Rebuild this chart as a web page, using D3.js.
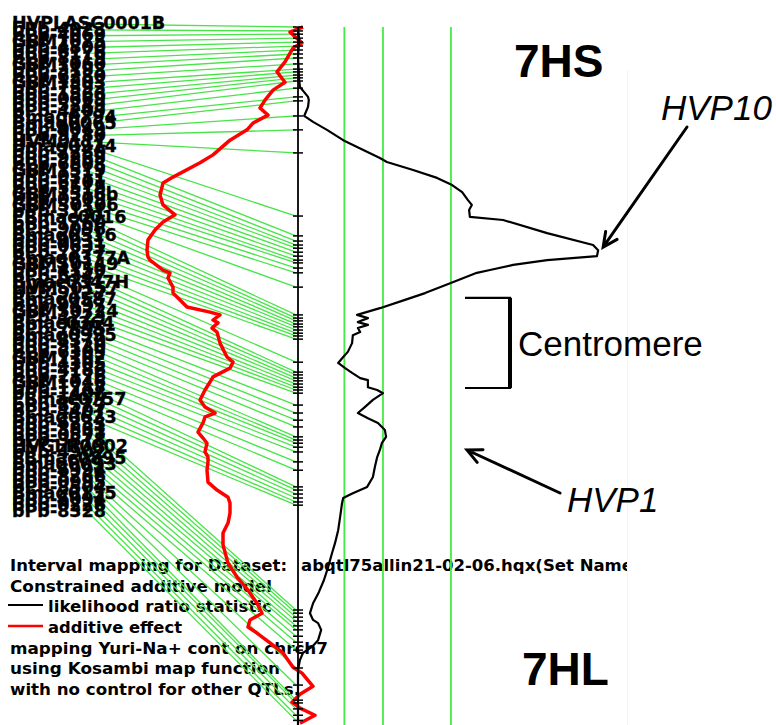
<!DOCTYPE html>
<html>
<head>
<meta charset="utf-8">
<script src="https://cdn.jsdelivr.net/npm/d3@7"></script>
<style>
  body { margin: 0; background: #fff; }
  svg { display: block; }
</style>
</head>
<body>
<div id="chart"></div>
<script>
// marker names (top to bottom) and their map positions in cM
const markerNames = [
  "HVPLASC0001B", "bPb-4023", "bPb-4069", "GBM1075", "bPb-4800", "bPb-6176", "bPb-8119", "GBM1060",
  "bPb-3193", "bPb-6280", "GBM1303", "bPb-7593", "bPb-1566", "bPb-0669", "bPb-5249", "bPb-4209",
  "Bmag0794", "Bmag0065", "bPb-0049", "bPb-9280", "HVM0111", "Bmag0914", "bPb-7280", "bPb-9269",
  "bPb-6808", "GBM1519", "bPb-0311", "bPb-6101", "bPb-5518", "GBM1516b", "bPb-0309", "GBMS0106",
  "bPb-3131", "EBmac0016", "bPb-1760", "bPb-9096", "Bmag0516", "bPb-0031", "bPb-0631", "bPb-7277",
  "Bmag0377A", "GBMS0149", "bPb-4150", "bPb-6347", "Bmac0347H", "HVMS0157", "bPb-9127", "Bmag0587",
  "bPb-9497", "GBMS0724", "bPb-4223", "Bmac0364", "bPb-7895", "Bmag0995", "bPb-8370", "bPb-5120",
  "bPb-6309", "GBM1102", "bPb-4305", "bPb-4186", "bPb-2176", "GBM1046", "bPb-1747", "bPb-1408",
  "EBmac0757", "bPb-8577", "bPb-4407", "Bmag0623", "bPb-6233", "bPb-3881", "bPb-0577", "bPb-3878",
  "HVGLR0002", "bPb-4902", "EBmac0895", "Bmag0093", "bPb-6994", "bPb-8266", "bPb-0995", "bPb-8504",
  "Bmag0135", "bPb-6094", "bPb-0226", "bPb-8328"
];
const markerPos = [
  0, 1.0, 1.8, 2.8, 3.8, 4.8, 5.8, 6.8, 7.8, 9.3, 10.6, 11.3, 12.1, 12.8, 13.6, 15.4,
  17.6, 18.6, 22.4, 25.9, 31.7, 47.6, 52.6, 53.9, 54.9, 55.7, 56.7, 57.7, 58.7, 59.4, 60.7, 61.9,
  65.5, 72.5, 73.3, 74.0, 74.8, 75.5, 76.3, 77.1, 77.8, 78.6, 84.4, 86.9, 87.6, 88.4, 89.1, 89.9,
  90.7, 91.4, 92.2, 95.2, 97.2, 99.0, 100.7, 103.2, 104.0, 104.8, 105.8, 107.0, 109.5, 111.6,
  115.8, 116.6, 117.6, 118.6, 119.6, 120.4, 146.8, 147.6, 148.6, 149.6, 150.8, 151.8, 153.4,
  154.9, 156.9, 161.4, 165.7, 169.5, 170.2, 171.7, 173.3, 174.6
];

// likelihood ratio statistic along the chromosome
const lrPos = [
  0, 3.3, 7.6, 13.3, 15.1, 16.4, 17.6, 18.4, 20.1, 22.4, 23.9, 25.9, 28.5, 30.2, 33.0,
  34.0, 36.0, 38.0, 39.8, 41.6, 43.6, 44.8, 46.1, 47.8, 48.6, 51.9, 54.9, 56.2, 57.7, 58.7,
  59.9, 61.2, 61.9, 64.5, 67.0, 68.7, 70.8, 72.5, 73.3, 74.3, 75.0, 75.8, 76.8, 77.6, 79.6,
  81.8, 83.1, 84.6, 85.9, 87.1, 88.4, 88.9, 90.7, 91.4, 92.2, 93.9, 95.7, 97.2, 98.5, 99.7,
  101.5, 103.2, 104.8, 106.5, 108.3, 110.8, 113.3, 115.8, 117.4, 118.6, 119.9, 123.4, 126.7, 129.9, 132.5,
  136.0, 139.3, 142.3, 145.1, 147.6, 149.3, 150.1, 151.8, 154.4, 156.1, 157.6, 159.4, 161.9, 175.8
];
const lrVal = [
  0, 0.3, 0, 0.3, 0.5, 1.6, 2.6, 2.8, 2.6, 1.6, 3.9, 7.5, 11.7, 15.3, 21.2,
  23.0, 29.8, 36.0, 39.9, 42.5, 44.0, 45.0, 44.3, 44.5, 53.1, 64.5, 76.4, 77.7, 77.4, 64.5,
  55.7, 49.7, 46.3, 39.4, 32.9, 27.7, 21.2, 15.3, 18.1, 15.5, 18.1, 15.5, 16.1, 14.2, 14.0,
  12.9, 11.7, 10.4, 12.2, 14.0, 16.1, 18.1, 18.1, 20.5, 22.0, 19.4, 17.3, 15.5, 18.1, 20.7,
  22.5, 22.8, 21.7, 21.2, 20.5, 19.9, 19.4, 17.9, 14.2, 11.7, 11.4, 10.9, 10.4, 9.6, 8.8,
  7.8, 6.7, 5.4, 3.9, 3.1, 3.9, 5.2, 6.0, 5.2, 3.6, 1.3, 0.5, 0, 0
];

// additive effect along the chromosome
const addPos = [
  0, 1.3, 4.0, 5.3, 8.8, 11.3, 13.9, 15.9, 18.4, 20.4, 22.2, 24.2, 25.9, 28.5, 32.2,
  34.2, 37.8, 39.3, 42.3, 44.8, 47.3, 49.1, 51.1, 53.6, 56.2, 57.9, 58.7, 61.2, 61.9, 63.2,
  65.5, 67.0, 70.5, 71.8, 72.5, 73.8, 74.5, 75.8, 76.8, 79.6, 83.1, 84.4, 85.9, 88.1, 89.4,
  91.4, 93.9, 95.7, 97.2, 98.2, 99.7, 102.0, 103.5, 104.8, 107.0, 108.3, 109.5, 111.6, 114.6, 116.6,
  118.4, 119.9, 122.4, 124.9, 127.4, 130.4, 135.0, 138.5, 141.8, 145.1, 147.6, 149.3, 151.1, 152.6, 155.1,
  157.6, 161.2, 162.7, 166.0, 168.0, 170.0, 171.5, 173.3, 175.3
];
const addVal = [
  0.010, -0.016, 0.008, -0.010, -0.026, -0.042, -0.026, -0.050, -0.066, -0.076, -0.060, -0.090, -0.102, -0.136, -0.170,
  -0.196, -0.250, -0.270, -0.276, -0.270, -0.246, -0.270, -0.286, -0.300, -0.302, -0.300, -0.296, -0.270, -0.256, -0.260,
  -0.250, -0.250, -0.222, -0.176, -0.156, -0.170, -0.160, -0.172, -0.162, -0.156, -0.142, -0.130, -0.136, -0.170, -0.176,
  -0.186, -0.196, -0.186, -0.166, -0.186, -0.190, -0.200, -0.190, -0.182, -0.186, -0.180, -0.180, -0.182, -0.180, -0.162,
  -0.140, -0.136, -0.136, -0.140, -0.150, -0.150, -0.140, -0.122, -0.100, -0.082, -0.072, -0.096, -0.100, -0.082, -0.056,
  -0.030, -0.010, 0.008, 0.030, 0.004, -0.012, 0.004, 0.034, 0.004
];

const thresholds = [12, 22, 39.6];
const centromere = [68.2, 90.9];

const legendLines = [
  "Interval mapping for Dataset:",
  "Constrained additive model",
  "likelihood ratio statistic",
  "additive effect",
  "mapping Yuri-Na+ cont on chrch7",
  "using Kosambi map function",
  "with no control for other QTLs."
];
const datasetName = "abqtl75allin21-02-06.hqx(Set Name";

const W = 776, H = 725;
const svg = d3.select("#chart").append("svg").attr("width", W).attr("height", H);

const y = d3.scaleLinear().domain([0, 175]).range([27, 722]);
const xLR = d3.scaleLinear().domain([0, 80]).range([298, 607]);
const xAdd = d3.scaleLinear().domain([-0.3, 0]).range([148, 298]);
const labelY = d3.scalePoint().domain(d3.range(markerNames.length)).range([29, 517]);

svg.append("defs").append("clipPath").attr("id", "win")
  .append("rect").attr("x", 0).attr("y", 0).attr("width", 628).attr("height", H);

const win = svg.append("g").attr("clip-path", "url(#win)");

// window edge (barely visible)
svg.append("line").attr("x1", 627.5).attr("x2", 627.5).attr("y1", 70).attr("y2", H)
  .style("stroke", "#f4f4f4").style("stroke-width", 1);

// legend text block
const lgFont = "'DejaVu Sans', sans-serif";
const lgBase = [571, 592, 612, 633, 654, 674, 695];
const lgX = [10, 10, 48, 48, 10, 10, 10];
const lgLen = [277, 262, 224, 134, 318, 270, 290];
legendLines.forEach((t, i) => {
  win.append("text")
    .attr("x", lgX[i]).attr("y", lgBase[i])
    .attr("textLength", lgLen[i]).attr("lengthAdjust", "spacingAndGlyphs")
    .style("font-family", lgFont).style("font-weight", "bold").style("font-size", "16.5px")
    .text(t);
});
win.append("text")
  .attr("x", 301).attr("y", lgBase[0])
  .attr("textLength", 332).attr("lengthAdjust", "spacingAndGlyphs")
  .style("font-family", lgFont).style("font-weight", "bold").style("font-size", "16.5px")
  .text(datasetName);
win.append("line").attr("x1", 8).attr("x2", 43).attr("y1", 605).attr("y2", 605)
  .style("stroke", "#000").style("stroke-width", 2);
win.append("line").attr("x1", 8).attr("x2", 43).attr("y1", 626).attr("y2", 626)
  .style("stroke", "#ff0000").style("stroke-width", 2.5);

// connectors from labels to the map
win.selectAll("line.conn")
  .data(markerPos).enter().append("line")
  .attr("class", "conn")
  .attr("x1", 88).attr("y1", (d, i) => labelY(i) - 5)
  .attr("x2", 296).attr("y2", d => y(d))
  .style("stroke", "#48e448").style("stroke-width", 1.3);

// marker labels (heavily overlapping, as in the original output)
win.selectAll("text.mk")
  .data(markerNames).enter().append("text")
  .attr("class", "mk")
  .attr("x", 12).attr("y", (d, i) => labelY(i))
  .style("font-family", lgFont).style("font-weight", "bold").style("font-size", "17.5px")
  .style("fill", "#000").style("stroke", "#000").style("stroke-width", 0.35)
  .text(d => d);

// threshold lines
win.selectAll("line.thr")
  .data(thresholds).enter().append("line")
  .attr("class", "thr")
  .attr("x1", d => xLR(d)).attr("x2", d => xLR(d))
  .attr("y1", 27).attr("y2", H)
  .style("stroke", "#44ec44").style("stroke-width", 1.8);

// additive effect curve
const addData = addPos.map((p, i) => [p, addVal[i]]);
win.append("path")
  .datum(addData)
  .attr("d", d3.line().x(d => xAdd(d[1])).y(d => y(d[0])))
  .style("fill", "none").style("stroke", "#ff0000").style("stroke-width", 3.5)
  .style("stroke-linejoin", "round");

// likelihood ratio curve
const lrData = lrPos.map((p, i) => [p, lrVal[i]]);
win.append("path")
  .datum(lrData)
  .attr("d", d3.line().x(d => xLR(d[1])).y(d => y(d[0])))
  .style("fill", "none").style("stroke", "#000").style("stroke-width", 2.2)
  .style("stroke-linejoin", "round");

// chromosome axis with marker ticks
win.append("line")
  .attr("x1", xLR(0)).attr("x2", xLR(0)).attr("y1", y(0)).attr("y2", H)
  .style("stroke", "#000").style("stroke-width", 1.8);
win.selectAll("line.tk")
  .data(markerPos).enter().append("line")
  .attr("class", "tk")
  .attr("x1", xLR(0) - 5).attr("x2", xLR(0) + 5)
  .attr("y1", d => y(d)).attr("y2", d => y(d))
  .style("stroke", "#000").style("stroke-width", 1.5);

// annotations
const arial = "'Liberation Sans', Arial, sans-serif";
svg.append("text").attr("x", 514).attr("y", 77)
  .style("font-family", arial).style("font-weight", "bold").style("font-size", "46px")
  .text("7HS");
svg.append("text").attr("x", 522).attr("y", 685)
  .style("font-family", arial).style("font-weight", "bold").style("font-size", "46px")
  .text("7HL");
svg.append("text").attr("x", 661).attr("y", 120)
  .style("font-family", arial).style("font-style", "italic").style("font-size", "35px")
  .text("HVP10");
svg.append("text").attr("x", 567).attr("y", 512)
  .style("font-family", arial).style("font-style", "italic").style("font-size", "35px")
  .text("HVP1");
svg.append("text").attr("x", 518).attr("y", 356)
  .style("font-family", arial).style("font-size", "35px")
  .text("Centromere");

// centromere bracket
const bx = 510;
svg.append("path")
  .attr("d", `M465,${y(centromere[0])}H${bx}V${y(centromere[1])}H465`)
  .style("fill", "none").style("stroke", "#000").style("stroke-width", 2.2);
svg.append("line").attr("x1", bx).attr("x2", bx)
  .attr("y1", y(centromere[0])).attr("y2", y(centromere[1]))
  .style("stroke", "#000").style("stroke-width", 4);

function arrow(x0, y0, x1, y1) {
  const a = Math.atan2(y1 - y0, x1 - x0), L = 16, s = 0.45;
  const p1 = [x1 - L * Math.cos(a - s), y1 - L * Math.sin(a - s)];
  const p2 = [x1 - L * Math.cos(a + s), y1 - L * Math.sin(a + s)];
  svg.append("path")
    .attr("d", `M${x0},${y0}L${x1},${y1}M${p1}L${x1},${y1}L${p2}`)
    .style("fill", "none").style("stroke", "#000").style("stroke-width", 3)
    .style("stroke-linecap", "round");
}
const peak = d3.maxIndex(lrVal);
arrow(687, 127, xLR(lrVal[peak]) + 5, y(lrPos[peak]) - 3);
arrow(560, 493, 467, 450);
</script>
</body>
</html>
